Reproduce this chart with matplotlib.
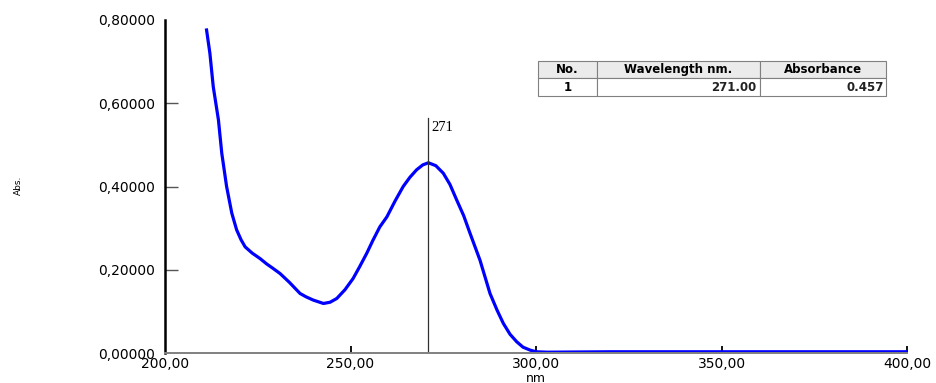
import numpy as np
import matplotlib
matplotlib.use("Agg")
import matplotlib.pyplot as plt

# spectrum
wavelength = [211.2, 212.1, 213.0, 214.4, 215.3, 216.6, 218.0, 219.3, 220.5, 221.6,
              223.5, 225.6, 227.4, 229.0, 231.0, 233.5, 236.4, 238.0, 240.0, 242.7,
              244.5, 246.3, 248.5, 250.7, 252.5, 254.4, 256.0, 257.9, 259.8, 262.0,
              264.2, 266.0, 267.8, 269.5, 271.0, 273.0, 275.0, 276.8, 278.6, 280.5,
              282.2, 284.9, 287.6, 289.5, 291.2, 293.0, 294.8, 296.5, 298.4, 300.0,
              303.0, 320.0, 340.0, 360.0, 380.0, 400.0]
absorbance = [0.776, 0.720, 0.640, 0.560, 0.480, 0.400, 0.336, 0.296, 0.272, 0.255,
              0.240, 0.227, 0.214, 0.204, 0.191, 0.170, 0.143, 0.135, 0.127, 0.119,
              0.122, 0.131, 0.152, 0.179, 0.208, 0.240, 0.270, 0.303, 0.327, 0.365,
              0.400, 0.422, 0.440, 0.452, 0.457, 0.450, 0.432, 0.405, 0.368, 0.330,
              0.288, 0.223, 0.143, 0.103, 0.071, 0.045, 0.027, 0.014, 0.007, 0.003,
              0.002, 0.003, 0.003, 0.003, 0.003, 0.003]

peak_nm = 271.00
peak_abs = 0.457

x_ticks = [200, 250, 300, 350, 400]
y_ticks = [0.0, 0.2, 0.4, 0.6, 0.8]

fig = plt.figure(figsize=(9.37, 3.83), dpi=100)
ax = fig.add_axes([0.1761, 0.0783, 0.7919, 0.8695])

ax.plot(wavelength, absorbance, color='#0000FF', lw=2.3, solid_joinstyle='round')
ax.plot([peak_nm, peak_nm], [0, 0.565], color='#303030', lw=0.9)
ax.text(peak_nm + 0.7, 0.541, '271', family='Liberation Serif', fontsize=10.5,
        va='center', ha='left')

ax.set_xlim(200, 400)
ax.set_ylim(0, 0.8)
ax.set_xticks(x_ticks)
ax.set_yticks(y_ticks)
ax.set_yticklabels([('%.5f' % v).replace('.', ',') for v in y_ticks])
ax.set_xticklabels([('%.2f' % v).replace('.', ',') for v in x_ticks])

for s in ['top', 'right']:
    ax.spines[s].set_visible(False)
ax.spines['left'].set_linewidth(1.8)
ax.spines['left'].set_color('black')
ax.spines['bottom'].set_linewidth(1.4)
ax.spines['bottom'].set_color('#808080')

ax.tick_params(axis='y', direction='in', length=9, width=1, color='#555555',
               pad=7, labelsize=10)
ax.tick_params(axis='x', direction='in', length=5, width=1.3, color='black',
               pad=3, labelsize=10)
ax.yaxis.get_major_ticks()[-1].tick1line.set_visible(False)
ax.yaxis.get_major_ticks()[0].tick1line.set_visible(False)
ax.xaxis.get_major_ticks()[0].tick1line.set_visible(False)

fig.text(18 / 937, 1 - 185 / 383, 'Abs.', rotation=90, fontsize=6.5,
         ha='center', va='center')
fig.text(536 / 937, 1 - 378 / 383, 'nm', fontsize=9, ha='center', va='center')

# peak table
cells = [['1', '%.2f' % peak_nm, '%.3f' % peak_abs]]
tbl = ax.table(cellText=cells, colLabels=['No.', 'Wavelength nm.', 'Absorbance'],
               colWidths=[59, 163, 126], bbox=[0.5027, 0.772, 0.4690, 0.105])
tbl.auto_set_font_size(False)
for (r, c), cell in tbl.get_celld().items():
    cell.set_edgecolor('#808080')
    cell.set_linewidth(0.8)
    cell.get_text().set_fontsize(8.5)
    cell.get_text().set_fontweight('bold')
    if r == 0:
        cell.set_facecolor('#EBEBEB')
        cell.get_text().set_ha('center')
    elif c == 0:
        cell.get_text().set_ha('center')
    else:
        cell.get_text().set_ha('right')
        cell.get_text().set_color('#222222')
        cell.PAD = 0.02

fig.savefig('out.png', dpi=100)
